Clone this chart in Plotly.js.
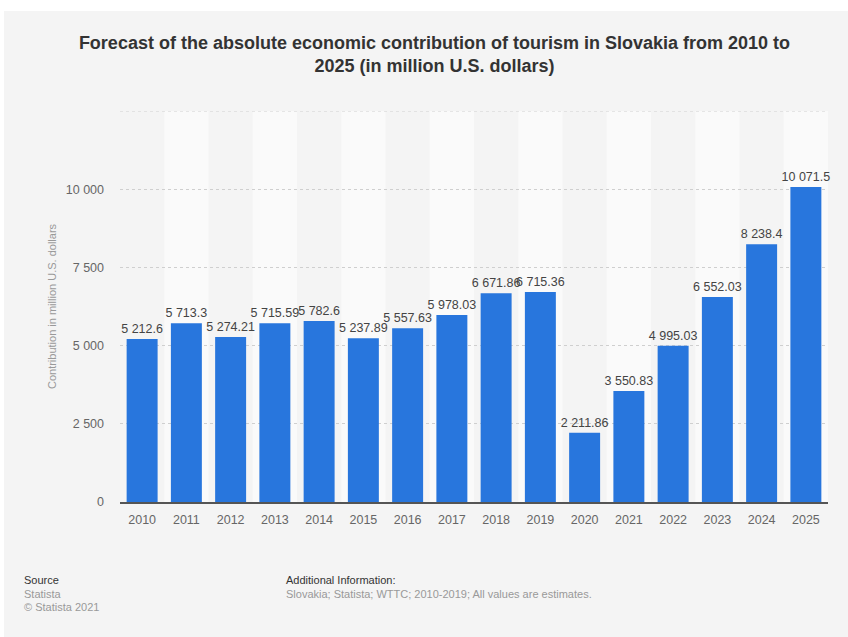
<!DOCTYPE html>
<html>
<head>
<meta charset="utf-8">
<script src="https://cdn.plot.ly/plotly-3.0.1.min.js"></script>
<style>
html,body{margin:0;padding:0;background:#ffffff;}
#chart{position:absolute;left:4px;top:11px;width:844px;height:626px;}
</style>
</head>
<body>
<div id="chart"></div>
<script>
const years = ['2010','2011','2012','2013','2014','2015','2016','2017','2018','2019','2020','2021','2022','2023','2024','2025'];
const contribution = [5212.6, 5713.3, 5274.21, 5715.59, 5782.6, 5237.89, 5557.63, 5978.03, 6671.86, 6715.36, 2211.86, 3550.83, 4995.03, 6552.03, 8238.4, 10071.5];
const yTicks = [0, 2500, 5000, 7500, 10000];
const yTickLabels = ['0', '2 500', '5 000', '7 500', '10 000'];

const font = '"Liberation Sans", Arial, Helvetica, sans-serif';

const shapes = [];
for (let i = 1; i < years.length; i += 2) {
  shapes.push({type:'rect', xref:'x', yref:'paper', x0:i-0.5, x1:i+0.5, y0:0, y1:1,
    fillcolor:'#fafafa', line:{width:0}, layer:'below'});
}
shapes.push({type:'line', xref:'paper', yref:'y', x0:0, x1:1, y0:12500, y1:12500,
  line:{color:'#cfcfcf', width:1, dash:'dot'}, layer:'below'});

function px(x){return (x-120)/708;}
function py(y){return (502-y)/391;}

const annotations = [
  {text:'Source', x:px(22), y:py(580), xanchor:'left', yanchor:'middle', font:{size:11, color:'#333'}},
  {text:'Statista', x:px(22), y:py(594), xanchor:'left', yanchor:'middle', font:{size:11, color:'#999'}},
  {text:'© Statista 2021', x:px(22), y:py(607), xanchor:'left', yanchor:'middle', font:{size:11, color:'#999'}},
  {text:'Additional Information:', x:px(284), y:py(580), xanchor:'left', yanchor:'middle', font:{size:11, color:'#333'}},
  {text:'Slovakia; Statista; WTTC; 2010-2019; All values are estimates.', x:px(284), y:py(594), xanchor:'left', yanchor:'middle', font:{size:11, color:'#999'}}
].map(a => Object.assign({xref:'paper', yref:'paper', showarrow:false}, a, {font:Object.assign({family:font}, a.font)}));

const trace = {
  type:'bar',
  x: years,
  y: contribution,
  marker:{color:'#2876dd'},
  texttemplate:'%{y:,}',
  textposition:'outside',
  constraintext:'none',
  textfont:{family:font, size:12.5, color:'#444'},
  cliponaxis:false,
  hoverinfo:'x+y'
};

const layout = {
  width:844, height:626,
  paper_bgcolor:'#f4f4f4',
  plot_bgcolor:'#f4f4f4',
  margin:{l:116, r:20, t:100, b:135},
  separators:'. ',
  bargap:0.3,
  showlegend:false,
  font:{family:font},
  title:{
    text:'<b>Forecast of the absolute economic contribution of tourism in Slovakia from 2010 to<br>2025 (in million U.S. dollars)</b>',
    x:0.51, xanchor:'center', y:0.94, yanchor:'top',
    font:{family:font, size:18, color:'#333'}
  },
  xaxis:{
    type:'category',
    showgrid:false,
    showline:true, linecolor:'#555', linewidth:1.5,
    ticks:'', tickfont:{family:font, size:12.5, color:'#666'},
    ticklabelstandoff:5,
    zeroline:false
  },
  yaxis:{
    range:[0,12500],
    tickvals:yTicks, ticktext:yTickLabels,
    showgrid:true, gridcolor:'#cfcfcf', griddash:'dot', gridwidth:1,
    zeroline:false, showline:false,
    tickfont:{family:font, size:12.5, color:'#666'},
    ticklabelstandoff:15,
    title:{text:'Contribution in million U.S. dollars', font:{family:font, size:11, color:'#999'}, standoff:6}
  },
  shapes:shapes,
  annotations:annotations
};

Plotly.newPlot('chart', [trace], layout, {displayModeBar:false, staticPlot:true});
</script>
</body>
</html>
